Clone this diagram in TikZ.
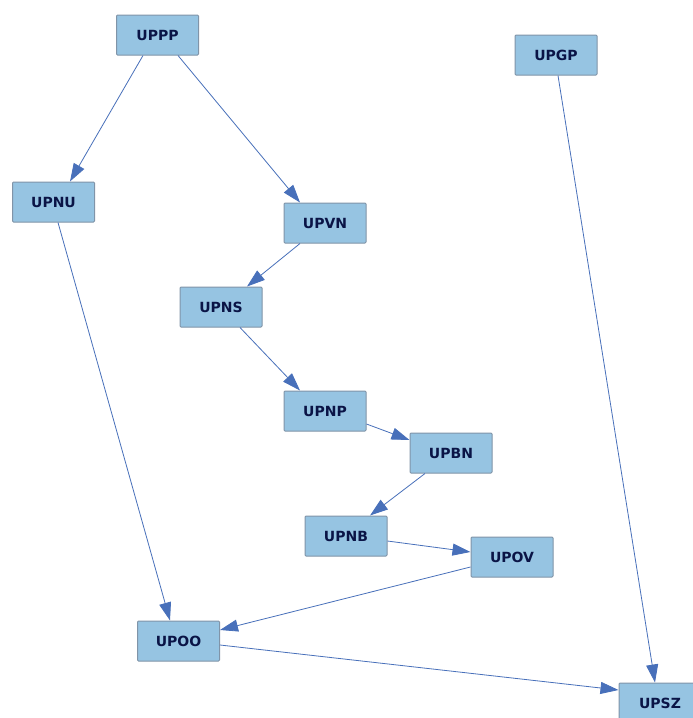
\documentclass[tikz,border=0pt]{standalone}
\usepackage{fontspec}
\setmainfont{DejaVu Sans}
\usetikzlibrary{arrows.meta}
\definecolor{nodefill}{RGB}{150,196,226}
\definecolor{nodedraw}{RGB}{128,148,168}
\definecolor{nodetext}{RGB}{10,20,70}
\definecolor{edgecol}{RGB}{72,112,186}
\begin{document}
\begin{tikzpicture}[x=1pt,y=-1pt,
  box/.style={rectangle,draw=nodedraw,fill=nodefill,line width=1pt,rounded corners=1pt,
    minimum width=82pt,minimum height=40pt,inner sep=0pt,
    font=\fontsize{14}{16}\selectfont\bfseries,text=nodetext},
  link/.style={draw=edgecol,line width=0.8pt,-{Triangle[length=18pt,width=12pt]}}]
\useasboundingbox[fill=white] (0,0) rectangle (693,718);
\node[box] (UPPP) at (157.5,35) {UPPP};
\node[box] (UPGP) at (556,55) {UPGP};
\node[box] (UPNU) at (53.5,202) {UPNU};
\node[box] (UPVN) at (325,223) {UPVN};
\node[box] (UPNS) at (221,307) {UPNS};
\node[box] (UPNP) at (325,411) {UPNP};
\node[box] (UPBN) at (451,453) {UPBN};
\node[box] (UPNB) at (346,536) {UPNB};
\node[box] (UPOV) at (512,557) {UPOV};
\node[box] (UPOO) at (178.5,641) {UPOO};
\node[box] (UPSZ) at (660,703) {UPSZ};
\draw[link] ([xshift=-14.5pt]UPPP.south) -- ([xshift=16.5pt]UPNU.north);
\draw[link] ([xshift=20.5pt]UPPP.south) -- ([xshift=-25pt]UPVN.north);
\draw[link] ([xshift=2pt]UPGP.south) -- ([xshift=-5pt]UPSZ.north);
\draw[link] ([xshift=4.5pt]UPNU.south) -- ([xshift=-8.5pt]UPOO.north);
\draw[link] ([xshift=-25pt]UPVN.south) -- ([xshift=26pt]UPNS.north);
\draw[link] ([xshift=19pt]UPNS.south) -- ([xshift=-25pt]UPNP.north);
\draw[link] ([yshift=-13pt]UPNP.east) -- ([yshift=13pt]UPBN.west);
\draw[link] ([xshift=-26pt]UPBN.south) -- ([xshift=24pt]UPNB.north);
\draw[link] ([yshift=-5pt]UPNB.east) -- ([yshift=5pt]UPOV.west);
\draw[link] ([yshift=-10pt]UPOV.west) -- ([yshift=11pt]UPOO.east);
\draw[link] ([yshift=-4pt]UPOO.east) -- ([yshift=13pt]UPSZ.west);
\end{tikzpicture}
\end{document}
